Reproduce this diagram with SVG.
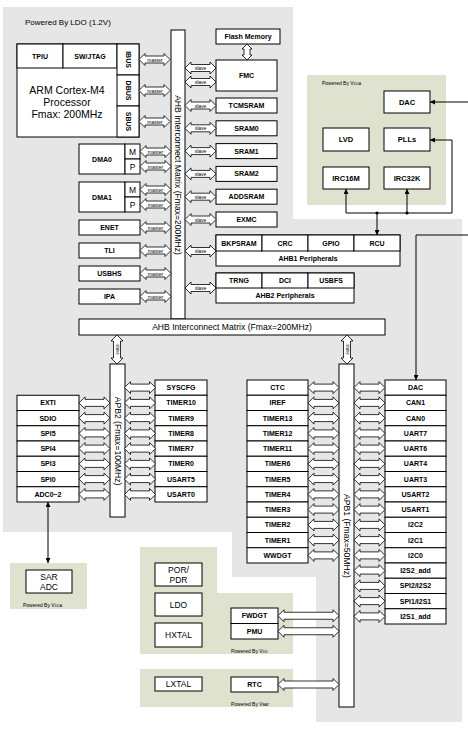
<svg xmlns="http://www.w3.org/2000/svg" xmlns:xlink="http://www.w3.org/1999/xlink" width="468" height="730" viewBox="0 0 468 730">
<defs>
<style>
.bg{fill:#e6e6e6}
.gr{fill:#dfe2cf}
.bx{fill:#fff;stroke:#000;stroke-width:1}
.t{font-family:"Liberation Sans",Arial,sans-serif;font-size:7px;font-weight:bold;text-anchor:middle;dominant-baseline:central;fill:#000}
.tn{font-family:"Liberation Sans",Arial,sans-serif;font-size:8.5px;text-anchor:middle;dominant-baseline:central;fill:#000}
.big{font-family:"Liberation Sans",Arial,sans-serif;font-size:10.5px;text-anchor:middle;dominant-baseline:central;fill:#000}
.bus{font-family:"Liberation Sans",Arial,sans-serif;font-size:8.6px;text-anchor:middle;dominant-baseline:central;fill:#000}
.pw{font-family:"Liberation Sans",Arial,sans-serif;font-size:5px;fill:#000}
.al{font-family:"Liberation Sans",Arial,sans-serif;font-size:5px;text-anchor:middle;dominant-baseline:central;fill:#000}
.ar{fill:#fff;stroke:#000;stroke-width:0.8}
.ln{fill:none;stroke:#000;stroke-width:1}
</style>
<path id="h31" class="ar" d="M0,0 L6,-6 L6,-3.5 L25,-3.5 L25,-6 L31,0 L25,6 L25,3.5 L6,3.5 L6,6 Z"/>
<path id="h61" class="ar" d="M0,0 L6,-6 L6,-3.5 L55,-3.5 L55,-6 L61,0 L55,6 L55,3.5 L6,3.5 L6,6 Z"/>
<path id="v29" class="ar" d="M0,0 L-6,6 L-3.5,6 L-3.5,23 L-6,23 L0,29 L6,23 L3.5,23 L3.5,6 L6,6 Z"/>
<marker id="ah" viewBox="0 0 10 10" refX="10" refY="5" markerWidth="5" markerHeight="5" orient="auto-start-reverse" markerUnits="userSpaceOnUse">
<path d="M0,0 L10,5 L0,10 Z" fill="#000"/>
</marker>
</defs>

<!-- background regions -->
<path class="bg" d="M3,7 H293 V219 H462 V722 H316 V577 H232 V532 H3 Z"/>
<rect class="gr" x="307" y="75" width="139" height="130"/>
<rect class="gr" x="10" y="563" width="77" height="46"/>
<path class="gr" d="M140,547 H217 V593 H293 V654 H140 Z"/>
<rect class="gr" x="140" y="669" width="153" height="38"/>

<text class="pw" x="25" y="25" style="font-size:8px">Powered By LDO (1.2V)</text>
<text class="pw" x="322" y="85">Powered By V<tspan style="font-size:3.5px">DDA</tspan></text>
<text class="pw" x="23" y="607">Powered By V<tspan style="font-size:3.5px">DDA</tspan></text>
<text class="pw" x="231" y="653">Powered By V<tspan style="font-size:3.5px">DD</tspan></text>
<text class="pw" x="231" y="706">Powered By V<tspan style="font-size:3.5px">BAT</tspan></text>

<!-- CPU -->
<g id="cpu">
<rect class="bx" x="17" y="44" width="122" height="93"/>
<rect class="bx" x="17" y="44" width="46" height="24"/>
<rect class="bx" x="63" y="44" width="54" height="24"/>
<rect class="bx" x="117" y="44" width="22" height="31"/>
<rect class="bx" x="117" y="75" width="22" height="31"/>
<rect class="bx" x="117" y="106" width="22" height="31"/>
<text class="t" x="40" y="56">TPIU</text>
<text class="t" x="90" y="56">SW/JTAG</text>
<text class="t" transform="translate(128,59.5) rotate(90)">IBUS</text>
<text class="t" transform="translate(128,90.5) rotate(90)">DBUS</text>
<text class="t" transform="translate(128,121.5) rotate(90)">SBUS</text>
<text class="big" x="67" y="90">ARM Cortex-M4</text>
<text class="big" x="67" y="102">Processor</text>
<text class="big" x="67" y="114">Fmax: 200MHz</text>
</g>

<g id="dma0">
<rect class="bx" x="79" y="144" width="46" height="30"/>
<rect class="bx" x="125" y="144" width="15" height="15"/>
<rect class="bx" x="125" y="159" width="15" height="15"/>
<text class="t" x="102" y="159">DMA0</text>
<text class="tn" x="132.5" y="151.5">M</text>
<text class="tn" x="132.5" y="166.5">P</text>
</g>
<g id="dma1">
<rect class="bx" x="79" y="182" width="46" height="30"/>
<rect class="bx" x="125" y="182" width="15" height="15"/>
<rect class="bx" x="125" y="197" width="15" height="15"/>
<text class="t" x="102" y="197">DMA1</text>
<text class="tn" x="132.5" y="189.5">M</text>
<text class="tn" x="132.5" y="204.5">P</text>
</g>
<g id="enet"><rect class="bx" x="79" y="220" width="61" height="15"/><text class="t" x="109.5" y="227.5">ENET</text></g>
<g id="tli"><rect class="bx" x="79" y="243" width="61" height="15"/><text class="t" x="109.5" y="250.5">TLI</text></g>
<g id="usbhs"><rect class="bx" x="79" y="266" width="61" height="15"/><text class="t" x="109.5" y="273.5">USBHS</text></g>
<g id="ipa"><rect class="bx" x="79" y="289" width="61" height="15"/><text class="t" x="109.5" y="296.5">IPA</text></g>

<!-- AHB matrix -->
<g id="ahb_v">
<rect class="bx" x="171" y="30" width="14" height="289"/>
<text class="bus" transform="translate(178,175) rotate(90)">AHB Interconnect Matrix (Fmax=200MHz)</text>
</g>
<g id="ahb_h">
<rect class="bx" x="79" y="319" width="306" height="16"/>
<text class="bus" x="232" y="327">AHB Interconnect Matrix (Fmax=200MHz)</text>
</g>

<g id="flash"><rect class="bx" x="216" y="29" width="64" height="15"/><text class="t" x="248" y="36.5">Flash Memory</text></g>
<g id="fmc"><rect class="bx" x="216" y="60" width="61" height="31"/><text class="t" x="246.5" y="75.5">FMC</text></g>
<g id="tcmsram"><rect class="bx" x="216" y="98" width="61" height="15"/><text class="t" x="246.5" y="105.5">TCMSRAM</text></g>
<g id="sram0"><rect class="bx" x="216" y="120.8" width="61" height="15"/><text class="t" x="246.5" y="128.3">SRAM0</text></g>
<g id="sram1"><rect class="bx" x="216" y="143.6" width="61" height="15"/><text class="t" x="246.5" y="151.1">SRAM1</text></g>
<g id="sram2"><rect class="bx" x="216" y="166.4" width="61" height="15"/><text class="t" x="246.5" y="173.9">SRAM2</text></g>
<g id="addsram"><rect class="bx" x="216" y="189.2" width="61" height="15"/><text class="t" x="246.5" y="196.7">ADDSRAM</text></g>
<g id="exmc"><rect class="bx" x="216" y="212" width="61" height="15"/><text class="t" x="246.5" y="219.5">EXMC</text></g>

<g id="ahb1">
<rect class="bx" x="216" y="235" width="184" height="31"/>
<rect class="bx" x="216" y="235" width="46" height="16"/>
<rect class="bx" x="262" y="235" width="46" height="16"/>
<rect class="bx" x="308" y="235" width="46" height="16"/>
<rect class="bx" x="354" y="235" width="46" height="16"/>
<text class="t" x="239" y="243">BKPSRAM</text>
<text class="t" x="285" y="243">CRC</text>
<text class="t" x="331" y="243">GPIO</text>
<text class="t" x="377" y="243">RCU</text>
<text class="t" x="308" y="258.5">AHB1 Peripherals</text>
</g>
<g id="ahb2">
<rect class="bx" x="216" y="273" width="138" height="30"/>
<rect class="bx" x="216" y="273" width="46" height="15"/>
<rect class="bx" x="262" y="273" width="46" height="15"/>
<rect class="bx" x="308" y="273" width="46" height="15"/>
<text class="t" x="239" y="280.5">TRNG</text>
<text class="t" x="285" y="280.5">DCI</text>
<text class="t" x="331" y="280.5">USBFS</text>
<text class="t" x="285" y="295.5">AHB2 Peripherals</text>
</g>

<!-- VDDA domain -->
<g id="dac_a"><rect class="bx" x="384" y="91" width="46" height="22"/><text class="t" x="407" y="102" style="font-size:7.5px">DAC</text></g>
<g id="lvd"><rect class="bx" x="323" y="128" width="46" height="23"/><text class="t" x="346" y="139.5" style="font-size:7.5px">LVD</text></g>
<g id="plls"><rect class="bx" x="384" y="128" width="46" height="23"/><text class="t" x="407" y="139.5" style="font-size:7.5px">PLLs</text></g>
<g id="irc16m"><rect class="bx" x="323" y="167" width="46" height="22"/><text class="t" x="346" y="178" style="font-size:7.5px">IRC16M</text></g>
<g id="irc32k"><rect class="bx" x="384" y="167" width="46" height="22"/><text class="t" x="407" y="178" style="font-size:7.5px">IRC32K</text></g>

<!-- APB2 -->
<g id="apb2">
<rect class="bx" x="110" y="364" width="15" height="153"/>
<text class="bus" transform="translate(117.5,441) rotate(90)">APB2  (Fmax=100MHz)</text>
</g>
<g id="apb2_left">
<rect class="bx" x="17" y="395.25" width="62" height="15.25"/><text class="t" x="48" y="402.9">EXTI</text>
<rect class="bx" x="17" y="410.5" width="62" height="15.25"/><text class="t" x="48" y="418.1">SDIO</text>
<rect class="bx" x="17" y="425.75" width="62" height="15.25"/><text class="t" x="48" y="433.4">SPI5</text>
<rect class="bx" x="17" y="441" width="62" height="15.25"/><text class="t" x="48" y="448.6">SPI4</text>
<rect class="bx" x="17" y="456.25" width="62" height="15.25"/><text class="t" x="48" y="463.9">SPI3</text>
<rect class="bx" x="17" y="471.5" width="62" height="15.25"/><text class="t" x="48" y="479.1">SPI0</text>
<rect class="bx" x="17" y="486.75" width="62" height="15.25"/><text class="t" x="48" y="494.4">ADC0~2</text>
</g>
<g id="apb2_right">
<rect class="bx" x="155" y="380" width="52" height="15.25"/><text class="t" x="181" y="387.6">SYSCFG</text>
<rect class="bx" x="155" y="395.25" width="52" height="15.25"/><text class="t" x="181" y="402.9">TIMER10</text>
<rect class="bx" x="155" y="410.5" width="52" height="15.25"/><text class="t" x="181" y="418.1">TIMER9</text>
<rect class="bx" x="155" y="425.75" width="52" height="15.25"/><text class="t" x="181" y="433.4">TIMER8</text>
<rect class="bx" x="155" y="441" width="52" height="15.25"/><text class="t" x="181" y="448.6">TIMER7</text>
<rect class="bx" x="155" y="456.25" width="52" height="15.25"/><text class="t" x="181" y="463.9">TIMER0</text>
<rect class="bx" x="155" y="471.5" width="52" height="15.25"/><text class="t" x="181" y="479.1">USART5</text>
<rect class="bx" x="155" y="486.75" width="52" height="15.25"/><text class="t" x="181" y="494.4">USART0</text>
</g>

<!-- APB1 -->
<g id="apb1">
<rect class="bx" x="339" y="364" width="15" height="343"/>
<text class="bus" transform="translate(346.5,536) rotate(90)">APB1  (Fmax=50MHz)</text>
</g>
<g id="apb1_left">
<rect class="bx" x="247" y="380" width="61" height="15.25"/><text class="t" x="277.5" y="387.6">CTC</text>
<rect class="bx" x="247" y="395.25" width="61" height="15.25"/><text class="t" x="277.5" y="402.9">IREF</text>
<rect class="bx" x="247" y="410.5" width="61" height="15.25"/><text class="t" x="277.5" y="418.1">TIMER13</text>
<rect class="bx" x="247" y="425.75" width="61" height="15.25"/><text class="t" x="277.5" y="433.4">TIMER12</text>
<rect class="bx" x="247" y="441" width="61" height="15.25"/><text class="t" x="277.5" y="448.6">TIMER11</text>
<rect class="bx" x="247" y="456.25" width="61" height="15.25"/><text class="t" x="277.5" y="463.9">TIMER6</text>
<rect class="bx" x="247" y="471.5" width="61" height="15.25"/><text class="t" x="277.5" y="479.1">TIMER5</text>
<rect class="bx" x="247" y="486.75" width="61" height="15.25"/><text class="t" x="277.5" y="494.4">TIMER4</text>
<rect class="bx" x="247" y="502" width="61" height="15.25"/><text class="t" x="277.5" y="509.6">TIMER3</text>
<rect class="bx" x="247" y="517.25" width="61" height="15.25"/><text class="t" x="277.5" y="524.9">TIMER2</text>
<rect class="bx" x="247" y="532.5" width="61" height="15.25"/><text class="t" x="277.5" y="540.1">TIMER1</text>
<rect class="bx" x="247" y="547.75" width="61" height="15.25"/><text class="t" x="277.5" y="555.4">WWDGT</text>
</g>
<g id="apb1_right">
<rect class="bx" x="385" y="380" width="61" height="15.25"/><text class="t" x="415.5" y="387.6">DAC</text>
<rect class="bx" x="385" y="395.25" width="61" height="15.25"/><text class="t" x="415.5" y="402.9">CAN1</text>
<rect class="bx" x="385" y="410.5" width="61" height="15.25"/><text class="t" x="415.5" y="418.1">CAN0</text>
<rect class="bx" x="385" y="425.75" width="61" height="15.25"/><text class="t" x="415.5" y="433.4">UART7</text>
<rect class="bx" x="385" y="441" width="61" height="15.25"/><text class="t" x="415.5" y="448.6">UART6</text>
<rect class="bx" x="385" y="456.25" width="61" height="15.25"/><text class="t" x="415.5" y="463.9">UART4</text>
<rect class="bx" x="385" y="471.5" width="61" height="15.25"/><text class="t" x="415.5" y="479.1">UART3</text>
<rect class="bx" x="385" y="486.75" width="61" height="15.25"/><text class="t" x="415.5" y="494.4">USART2</text>
<rect class="bx" x="385" y="502" width="61" height="15.25"/><text class="t" x="415.5" y="509.6">USART1</text>
<rect class="bx" x="385" y="517.25" width="61" height="15.25"/><text class="t" x="415.5" y="524.9">I2C2</text>
<rect class="bx" x="385" y="532.5" width="61" height="15.25"/><text class="t" x="415.5" y="540.1">I2C1</text>
<rect class="bx" x="385" y="547.75" width="61" height="15.25"/><text class="t" x="415.5" y="555.4">I2C0</text>
<rect class="bx" x="385" y="563" width="61" height="15.25"/><text class="t" x="415.5" y="570.6">I2S2_add</text>
<rect class="bx" x="385" y="578.25" width="61" height="15.25"/><text class="t" x="415.5" y="585.9">SPI2/I2S2</text>
<rect class="bx" x="385" y="593.5" width="61" height="15.25"/><text class="t" x="415.5" y="601.1">SPI1/I2S1</text>
<rect class="bx" x="385" y="608.75" width="61" height="15.25"/><text class="t" x="415.5" y="616.4">I2S1_add</text>
</g>

<!-- low-power domains -->
<g id="sar_adc"><rect class="bx" x="26" y="570" width="46" height="23"/><text class="tn" x="49" y="577">SAR</text><text class="tn" x="49" y="587">ADC</text></g>
<g id="por_pdr"><rect class="bx" x="155" y="563" width="47" height="23"/><text class="tn" x="178.5" y="569.5">POR/</text><text class="tn" x="178.5" y="580">PDR</text></g>
<g id="ldo"><rect class="bx" x="155" y="593" width="47" height="23"/><text class="tn" x="178.5" y="604.5">LDO</text></g>
<g id="hxtal"><rect class="bx" x="155" y="623" width="47" height="24"/><text class="tn" x="178.5" y="635">HXTAL</text></g>
<g id="fwdgt"><rect class="bx" x="231" y="608" width="47" height="15.5"/><text class="t" x="254.5" y="615.75">FWDGT</text></g>
<g id="pmu"><rect class="bx" x="231" y="623.5" width="47" height="15.5"/><text class="t" x="254.5" y="631.25">PMU</text></g>
<g id="lxtal"><rect class="bx" x="155" y="677" width="47" height="14"/><text class="tn" x="178.5" y="684">LXTAL</text></g>
<g id="rtc"><rect class="bx" x="231" y="677" width="47" height="15"/><text class="t" x="254.5" y="684.5">RTC</text></g>

<!-- connectors -->
<g id="connectors">
<!-- master arrows -->
<use xlink:href="#h31" x="139" y="59.5"/><text class="al" x="155" y="59.5">master</text>
<use xlink:href="#h31" x="139" y="90.5"/><text class="al" x="155" y="90.5">master</text>
<use xlink:href="#h31" x="139" y="121.5"/><text class="al" x="155" y="121.5">master</text>
<use xlink:href="#h31" x="140" y="151.5"/><text class="al" x="155.5" y="151.5">master</text>
<use xlink:href="#h31" x="140" y="166.5"/><text class="al" x="155.5" y="166.5">master</text>
<use xlink:href="#h31" x="140" y="189.5"/><text class="al" x="155.5" y="189.5">master</text>
<use xlink:href="#h31" x="140" y="204.5"/><text class="al" x="155.5" y="204.5">master</text>
<use xlink:href="#h31" x="140" y="227.5"/><text class="al" x="155.5" y="227.5">master</text>
<use xlink:href="#h31" x="140" y="250.5"/><text class="al" x="155.5" y="250.5">master</text>
<use xlink:href="#h31" x="140" y="273.5"/><text class="al" x="155.5" y="273.5">master</text>
<use xlink:href="#h31" x="140" y="296.5"/><text class="al" x="155.5" y="296.5">master</text>
<!-- slave arrows -->
<use xlink:href="#h31" x="185" y="68"/><text class="al" x="200.5" y="68">slave</text>
<use xlink:href="#h31" x="185" y="82"/><text class="al" x="200.5" y="82">slave</text>
<use xlink:href="#h31" x="185" y="105.5"/><text class="al" x="200.5" y="105.5">slave</text>
<use xlink:href="#h31" x="185" y="128.3"/><text class="al" x="200.5" y="128.3">slave</text>
<use xlink:href="#h31" x="185" y="151.1"/><text class="al" x="200.5" y="151.1">slave</text>
<use xlink:href="#h31" x="185" y="173.9"/><text class="al" x="200.5" y="173.9">slave</text>
<use xlink:href="#h31" x="185" y="196.7"/><text class="al" x="200.5" y="196.7">slave</text>
<use xlink:href="#h31" x="185" y="219.5"/><text class="al" x="200.5" y="219.5">slave</text>
<use xlink:href="#h31" x="185" y="251"/><text class="al" x="200.5" y="251">slave</text>
<use xlink:href="#h31" x="185" y="288"/><text class="al" x="200.5" y="288">slave</text>
<!-- flash to fmc -->
<path class="ar" d="M247,44 L252,49 L250,49 L250,55 L252,55 L247,60 L242,55 L244,55 L244,49 L242,49 Z"/>
<!-- AHB to APB bridges -->
<use xlink:href="#v29" x="117" y="335"/><text class="al" transform="translate(117,349.5) rotate(90)" style="font-size:4.5px">slave</text>
<use xlink:href="#v29" x="347" y="335"/><text class="al" transform="translate(347,349.5) rotate(90)" style="font-size:4.5px">slave</text>
<!-- APB2 arrows -->
<use xlink:href="#h31" x="79" y="402.9"/>
<use xlink:href="#h31" x="79" y="418.1"/>
<use xlink:href="#h31" x="79" y="433.4"/>
<use xlink:href="#h31" x="79" y="448.6"/>
<use xlink:href="#h31" x="79" y="463.9"/>
<use xlink:href="#h31" x="79" y="479.1"/>
<use xlink:href="#h31" x="79" y="494.4"/>
<use xlink:href="#h31" x="125" y="387.6" transform="translate(-0.5,0)"/>
<use xlink:href="#h31" x="124.5" y="402.9"/>
<use xlink:href="#h31" x="124.5" y="418.1"/>
<use xlink:href="#h31" x="124.5" y="433.4"/>
<use xlink:href="#h31" x="124.5" y="448.6"/>
<use xlink:href="#h31" x="124.5" y="463.9"/>
<use xlink:href="#h31" x="124.5" y="479.1"/>
<use xlink:href="#h31" x="124.5" y="494.4"/>
<!-- APB1 left arrows -->
<use xlink:href="#h31" x="308" y="387.6"/>
<use xlink:href="#h31" x="308" y="402.9"/>
<use xlink:href="#h31" x="308" y="418.1"/>
<use xlink:href="#h31" x="308" y="433.4"/>
<use xlink:href="#h31" x="308" y="448.6"/>
<use xlink:href="#h31" x="308" y="463.9"/>
<use xlink:href="#h31" x="308" y="479.1"/>
<use xlink:href="#h31" x="308" y="494.4"/>
<use xlink:href="#h31" x="308" y="509.6"/>
<use xlink:href="#h31" x="308" y="524.9"/>
<use xlink:href="#h31" x="308" y="540.1"/>
<use xlink:href="#h31" x="308" y="555.4"/>
<!-- APB1 right arrows -->
<use xlink:href="#h31" x="354" y="387.6"/>
<use xlink:href="#h31" x="354" y="402.9"/>
<use xlink:href="#h31" x="354" y="418.1"/>
<use xlink:href="#h31" x="354" y="433.4"/>
<use xlink:href="#h31" x="354" y="448.6"/>
<use xlink:href="#h31" x="354" y="463.9"/>
<use xlink:href="#h31" x="354" y="479.1"/>
<use xlink:href="#h31" x="354" y="494.4"/>
<use xlink:href="#h31" x="354" y="509.6"/>
<use xlink:href="#h31" x="354" y="524.9"/>
<use xlink:href="#h31" x="354" y="540.1"/>
<use xlink:href="#h31" x="354" y="555.4"/>
<use xlink:href="#h31" x="354" y="570.6"/>
<use xlink:href="#h31" x="354" y="585.9"/>
<use xlink:href="#h31" x="354" y="601.1"/>
<use xlink:href="#h31" x="354" y="616.4"/>
<!-- backup domain arrows -->
<use xlink:href="#h61" x="278" y="615.75"/>
<use xlink:href="#h61" x="278" y="631.25"/>
<use xlink:href="#h61" x="278" y="684.5"/>
<!-- signal lines -->
<path class="ln" d="M468,102 H430" marker-end="url(#ah)"/>
<path class="ln" d="M346,189 V213 H452 V140 H430" marker-start="url(#ah)" marker-end="url(#ah)"/>
<path class="ln" d="M407,213 V189" marker-end="url(#ah)"/>
<path class="ln" d="M377,213 V235" marker-end="url(#ah)"/>
<circle cx="377" cy="213" r="1.6" fill="#000"/>
<circle cx="407" cy="213" r="1.6" fill="#000"/>
<path class="ln" d="M468,235 H416 V380" marker-end="url(#ah)"/>
<path class="ln" d="M48,502 V563" marker-start="url(#ah)" marker-end="url(#ah)"/>
</g>
</svg>
